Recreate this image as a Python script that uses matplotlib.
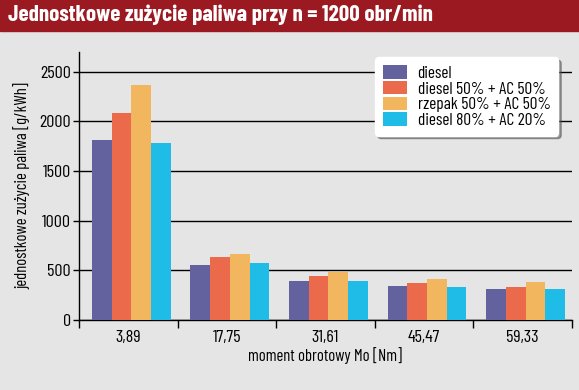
import matplotlib.pyplot as plt
import numpy as np
from matplotlib.patches import Rectangle

# dane
moment = ['3,89', '17,75', '31,61', '45,47', '59,33']
serie = ['diesel', 'diesel 50% + AC 50%', 'rzepak 50% + AC 50%', 'diesel 80% + AC 20%']
diesel = [1815, 556, 392, 345, 312]
diesel_ac50 = [2085, 634, 446, 372, 332]
rzepak_ac50 = [2365, 664, 483, 412, 382]
diesel_ac20 = [1785, 573, 392, 332, 312]
kolory = ['#63629f', '#eb6a4b', '#f2b75e', '#1fbce8']

plt.rcParams['font.family'] = ['Barlow Condensed', 'DejaVu Sans']

fig = plt.figure(figsize=(5.79, 3.9), dpi=100, facecolor='#e5e5e5')
fig.patches.append(Rectangle((0, 359/390), 1, 31/390, transform=fig.transFigure,
                             color='#9b1a21', zorder=0))
fig.text(8/579, 1 - 15/390, 'Jednostkowe zużycie paliwa przy n = 1200 obr/min',
         color='white', fontsize=16.6, fontweight='bold', va='center', ha='left')

ax = fig.add_axes([79/579, 70/390, 493/579, 268/390])
ax.set_facecolor('#e5e5e5')

x = np.arange(len(moment))
szer = 0.2
for i, (dane, kol, nazwa) in enumerate(zip([diesel, diesel_ac50, rzepak_ac50, diesel_ac20], kolory, serie)):
    ax.bar(x + (i - 1.5) * szer + 0.03, dane, szer, color=kol, label=nazwa, zorder=3)

ax.set_xlim(-0.5, len(moment) - 0.5)
ax.set_ylim(0, 2700)
ax.set_yticks(range(0, 2501, 500))
ax.yaxis.grid(True, color='black', linewidth=1, zorder=1)
ax.set_xticks(x)
ax.set_xticklabels(moment)
ax.set_xticks(np.arange(-0.5, len(moment)), minor=True)
ax.tick_params(axis='x', which='major', length=0, labelsize=13, pad=7)
ax.tick_params(axis='x', which='minor', length=6, width=1, direction='out')
ax.tick_params(axis='y', length=4, width=1, labelsize=13, pad=2)
for s in ['top', 'right']:
    ax.spines[s].set_visible(False)
ax.spines['left'].set_linewidth(1)
ax.spines['bottom'].set_linewidth(1)

ax.set_xlabel('moment obrotowy Mo [Nm]', fontsize=12, labelpad=2)
ax.set_ylabel('jednostkowe zużycie paliwa [g/kWh]', fontsize=12, labelpad=6)

leg = ax.legend(loc='upper right', bbox_to_anchor=(0.99, 1.012), fontsize=12.5,
                frameon=True, fancybox=True, shadow=True, handlelength=1.4,
                handleheight=0.8, labelspacing=0.0, handletextpad=0.6,
                borderpad=0.45)
leg.get_frame().set_facecolor('white')
leg.get_frame().set_edgecolor('white')
leg.get_frame().set_alpha(1)

fig.savefig('out.png', dpi=100, facecolor=fig.get_facecolor())
